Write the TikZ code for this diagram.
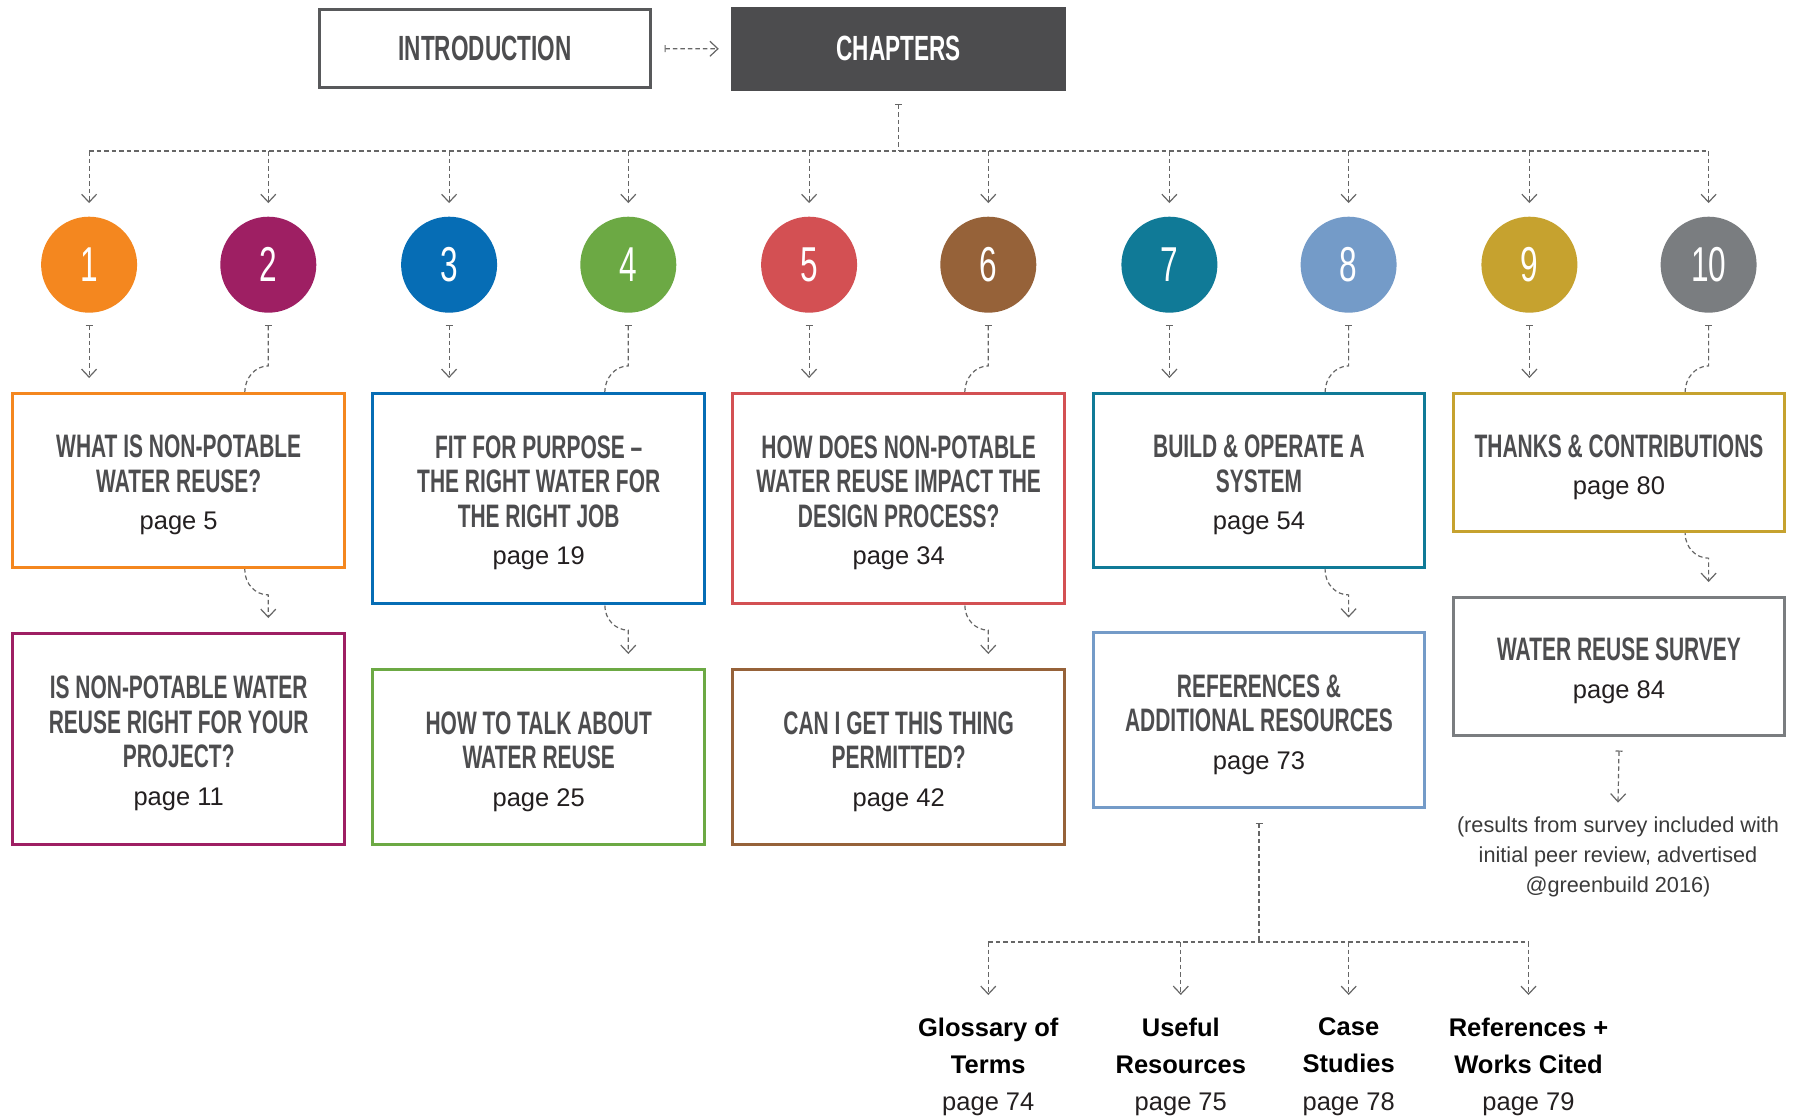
\documentclass[tikz,border=0pt]{standalone}
\usepackage{fontspec}
\setmainfont{Liberation Sans}
\newfontfamily\condfam[FakeStretch=0.645]{Liberation Sans}
\usetikzlibrary{arrows.meta,calc}
\definecolor{cA}{HTML}{F4871F}
\definecolor{cB}{HTML}{9E1F63}
\definecolor{cC}{HTML}{066DB5}
\definecolor{cD}{HTML}{6CA944}
\definecolor{cE}{HTML}{D35053}
\definecolor{cF}{HTML}{966239}
\definecolor{cG}{HTML}{107A97}
\definecolor{cH}{HTML}{749BC8}
\definecolor{cI}{HTML}{C6A22F}
\definecolor{cJ}{HTML}{7A7D80}
\definecolor{darkbox}{HTML}{4C4C4E}
\definecolor{titlecol}{HTML}{4D4D4F}
\definecolor{pagecol}{HTML}{231F20}
\definecolor{linecol}{HTML}{666666}
\definecolor{introcol}{HTML}{58595B}
\definecolor{notecol}{HTML}{3A3A3A}
\newcommand\titlefont{\condfam\bfseries\fontsize{32.5}{34.5}\selectfont}
\newcommand\pagefont{\rmfamily\mdseries\fontsize{25.5}{28}\selectfont\color{pagecol}}
\newcommand\boldfont{\rmfamily\bfseries\fontsize{25.5}{37.25}\selectfont}
\tikzset{
  chbox/.style={rectangle, draw=#1, line width=3pt, fill=white, minimum width=331.5pt, inner sep=0pt},
  chnum/.style={circle, fill=#1, minimum size=96pt, inner sep=0pt, text=white, font=\condfam\fontsize{49}{49}\selectfont},
  btext/.style={align=center, font=\titlefont, text=titlecol, inner sep=0pt},
  conn/.style={draw=linecol, line width=1.2pt, dash pattern=on 4.5pt off 3pt},
  arrowend/.style={-{Straight Barb[length=8pt,width=15pt,line width=1.2pt]}},
  barstart/.style={{Bar[width=7pt,line width=1.2pt]}-{Straight Barb[length=8pt,width=15pt,line width=1.2pt]}},
  baronly/.style={{Bar[width=7pt,line width=1.2pt]}-},
}
\begin{document}
\begin{tikzpicture}[x=1pt,y=-1pt]
\fill[white] (0,0) rectangle (1797,1119);
\useasboundingbox (0,0) rectangle (1797,1119);

% top boxes
\node[rectangle, draw=introcol, line width=3pt, minimum width=331pt, minimum height=78.5pt, inner sep=0pt,
      font=\condfam\bfseries\fontsize{35}{40}\selectfont, text=titlecol] (intro) at (485,48.7) {INTRODUCTION};
\node[rectangle, fill=darkbox, minimum width=335pt, minimum height=83.7pt, inner sep=0pt,
      font=\condfam\bfseries\fontsize{35}{40}\selectfont, text=white] (chap) at (898.5,48.8) {CHAPTERS};

% circles
\node[chnum=cA] (c1) at (89.1,264.7) {1};
\node[chnum=cB] (c2) at (268.3,264.7) {2};
\node[chnum=cC] (c3) at (449.1,264.7) {3};
\node[chnum=cD] (c4) at (628.3,264.7) {4};
\node[chnum=cE] (c5) at (809.1,264.7) {5};
\node[chnum=cF] (c6) at (988.3,264.7) {6};
\node[chnum=cG] (c7) at (1169.4,264.7) {7};
\node[chnum=cH] (c8) at (1348.6,264.7) {8};
\node[chnum=cI] (c9) at (1529.4,264.7) {9};
\node[chnum=cJ] (c10) at (1708.6,264.7) {10};

% connectors top
\draw[conn,barstart] ([xshift=12.5pt]intro.east) -- ([xshift=-12pt]chap.west);
\coordinate (hub) at (898.5,151);
\draw[conn,baronly] ([yshift=-13pt]chap.south) -- (hub);
\draw[conn] (c1 |- hub) -- (c10 |- hub);
\foreach \i in {1,...,10}{
  \draw[conn,arrowend] (c\i |- hub) -- ([yshift=13.4pt]c\i.north);
}

% even-column connectors (passing behind the upper boxes)
\draw[conn,barstart] ([yshift=-12pt]c2.south) -- ++(0,41) .. controls +(-13,0) and +(0,-14) .. ++(-23.5,26)
   -- ++(0,178) .. controls +(0,14) and +(-13,0) .. ++(23.5,25) -- (c2 |- 0,618);
\draw[conn,barstart] ([yshift=-12pt]c4.south) -- ++(0,41) .. controls +(-13,0) and +(0,-14) .. ++(-23.5,26)
   -- ++(0,213.3) .. controls +(0,14) and +(-13,0) .. ++(23.5,25) -- (c4 |- 0,654);
\draw[conn,barstart] ([yshift=-12pt]c6.south) -- ++(0,41) .. controls +(-13,0) and +(0,-14) .. ++(-23.5,26)
   -- ++(0,213.3) .. controls +(0,14) and +(-13,0) .. ++(23.5,25) -- (c6 |- 0,654);
\draw[conn,barstart] ([yshift=-12pt]c8.south) -- ++(0,41) .. controls +(-13,0) and +(0,-14) .. ++(-23.5,26)
   -- ++(0,178) .. controls +(0,14) and +(-13,0) .. ++(23.5,25) -- (c8 |- 0,617.5);
\draw[conn,barstart] ([yshift=-12pt]c10.south) -- ++(0,41) .. controls +(-13,0) and +(0,-14) .. ++(-23.5,26)
   -- ++(0,141.3) .. controls +(0,14) and +(-13,0) .. ++(23.5,25) -- (c10 |- 0,582);

% chapter boxes
\node[chbox=cA, minimum height=174.5pt] (b1) at (178.7,480.7) {};
\node[chbox=cC, minimum height=210pt]   (b3) at (538.7,498.5) {};
\node[chbox=cE, minimum height=210pt]   (b5) at (898.7,498.5) {};
\node[chbox=cG, minimum height=174.5pt] (b7) at (1259,480.7) {};
\node[chbox=cI, minimum height=138pt]   (b9) at (1619,462.6) {};
\node[chbox=cB, minimum height=211pt]   (b2) at (178.7,738.8) {};
\node[chbox=cD, minimum height=174.7pt] (b4) at (538.7,757) {};
\node[chbox=cF, minimum height=174.7pt] (b6) at (898.7,757) {};
\node[chbox=cH, minimum height=174.5pt] (b8) at (1259,720.2) {};
\node[chbox=cJ, minimum height=138pt]   (bs) at (1619,666.5) {};

% odd-column straight connectors
\draw[conn,barstart] ([yshift=-12pt]c1.south) -- (c1 |- 0,378);
\draw[conn,barstart] ([yshift=-12pt]c3.south) -- (c3 |- 0,378);
\draw[conn,barstart] ([yshift=-12pt]c5.south) -- (c5 |- 0,378);
\draw[conn,barstart] ([yshift=-12pt]c7.south) -- (c7 |- 0,378);
\draw[conn,barstart] ([yshift=-12pt]c9.south) -- (c9 |- 0,378);

% box texts
\node[btext] (t1) at ([yshift=-4.5pt]b1.center) {WHAT IS NON-POTABLE\\WATER REUSE?\\[3pt]{\pagefont page 5}};
\node[btext] (t3) at ([yshift=-4.5pt]b3.center) {FIT FOR PURPOSE –\\THE RIGHT WATER FOR\\THE RIGHT JOB\\[3pt]{\pagefont page 19}};
\node[btext] (t5) at ([yshift=-4.5pt]b5.center) {HOW DOES NON-POTABLE\\WATER REUSE IMPACT THE\\DESIGN PROCESS?\\[3pt]{\pagefont page 34}};
\node[btext] (t7) at ([yshift=-4.5pt]b7.center) {BUILD \& OPERATE A\\SYSTEM\\[3pt]{\pagefont page 54}};
\node[btext] (t9) at ([yshift=-4.5pt]b9.center) {THANKS \& CONTRIBUTIONS\\[3pt]{\pagefont page 80}};
\node[btext] (t2) at ([yshift=-4.5pt]b2.center) {IS NON-POTABLE WATER\\REUSE RIGHT FOR YOUR\\PROJECT?\\[3pt]{\pagefont page 11}};
\node[btext] (t4) at ([yshift=-4.5pt]b4.center) {HOW TO TALK ABOUT\\WATER REUSE\\[3pt]{\pagefont page 25}};
\node[btext] (t6) at ([yshift=-4.5pt]b6.center) {CAN I GET THIS THING\\PERMITTED?\\[3pt]{\pagefont page 42}};
\node[btext] (t8) at ([yshift=-4.5pt]b8.center) {REFERENCES \&\\ADDITIONAL RESOURCES\\[3pt]{\pagefont page 73}};
\node[btext] (ts) at ([yshift=-4.5pt]bs.center) {WATER REUSE SURVEY\\[3pt]{\pagefont page 84}};

% survey note
\node[align=center, inner sep=0pt, text=notecol, font=\fontsize{21.7}{30}\selectfont] (note) at (1618,856.6)
  {(results from survey included with\\initial peer review, advertised\\@greenbuild 2016)};
\draw[conn,barstart] ([yshift=-13.5pt]bs.south) -- ([yshift=13.7pt]note.north);

% bottom sub-items
\node[anchor=north, align=center, inner sep=0pt, font=\boldfont] (g1) at (988.3,1017.5) {Glossary of\\Terms\\{\pagefont page 74}};
\node[anchor=north, align=center, inner sep=0pt, font=\boldfont] (g2) at (1180.8,1017.5) {Useful\\Resources\\{\pagefont page 75}};
\node[anchor=north, align=center, inner sep=0pt, font=\boldfont] (g3) at (1348.7,1017.5) {Case\\Studies\\{\pagefont page 78}};
\node[anchor=north, align=center, inner sep=0pt, font=\boldfont] (g4) at (1528.5,1017.5) {References +\\Works Cited\\{\pagefont page 79}};
\coordinate (hub2) at (1259,942);
\draw[conn,baronly] ([yshift=-14pt]b8.south) -- (hub2);
\draw[conn] (g1 |- hub2) -- (g4 |- hub2);
\foreach \i in {1,...,4}{
  \draw[conn,arrowend] (g\i |- hub2) -- (g\i |- 0,995);
}
\end{tikzpicture}
\end{document}
